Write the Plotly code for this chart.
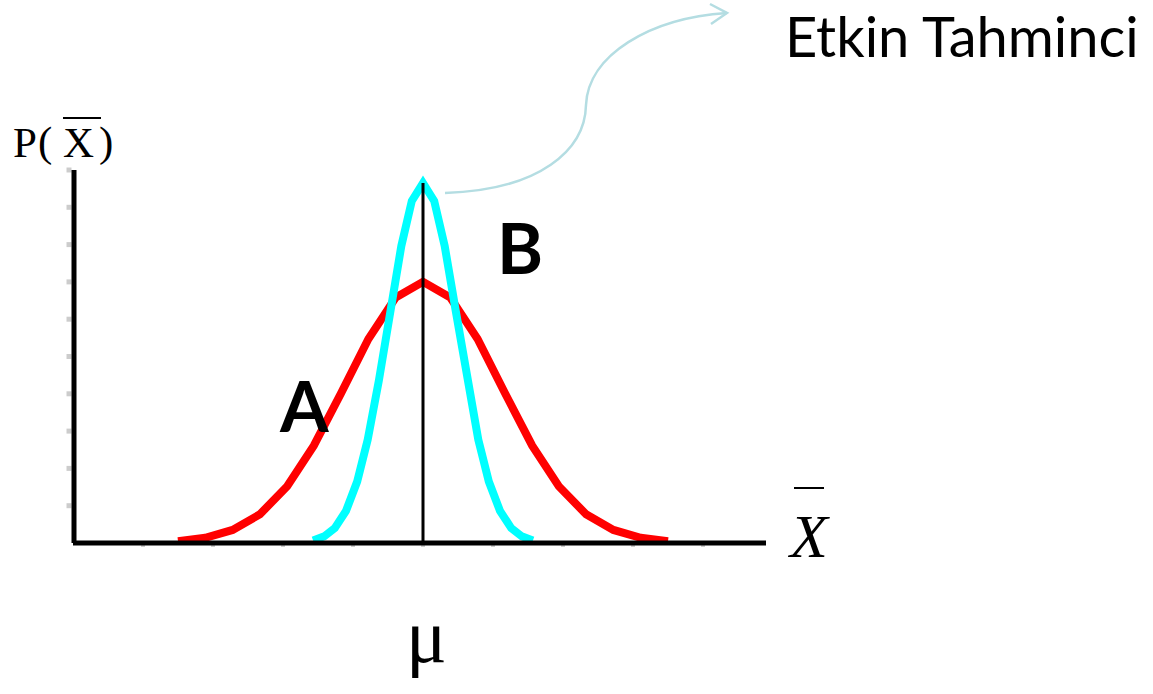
import plotly.graph_objects as go

# ---- data (x in axis units, mu = 5) ----
red_x = [1.50, 1.89, 2.28, 2.67, 3.06, 3.44, 3.83, 4.22, 4.61, 5.00,
         5.39, 5.78, 6.17, 6.56, 6.94, 7.33, 7.72, 8.11, 8.50]
red_y = [0.05, 0.14, 0.35, 0.77, 1.52, 2.61, 4.02, 5.47, 6.58, 7.00,
         6.58, 5.47, 4.02, 2.61, 1.52, 0.77, 0.35, 0.14, 0.05]

cyan_x = [3.43, 3.59, 3.74, 3.90, 4.06, 4.21, 4.37, 4.53, 4.69, 4.84, 5.00,
          5.16, 5.31, 5.47, 5.63, 5.79, 5.94, 6.10, 6.26, 6.41, 6.57]
cyan_y = [0.07, 0.18, 0.40, 0.86, 1.65, 2.77, 4.36, 6.20, 7.96, 9.17, 9.65,
          9.17, 7.96, 6.20, 4.36, 2.77, 1.65, 0.86, 0.40, 0.18, 0.07]

mu = 5.0
mu_height = 9.65
x_axis_end = 9.9
y_axis_end = 10.0
y_ticks = [1, 2, 3, 4, 5, 6, 7, 8, 9, 10]
x_ticks = [1, 2, 3, 4, 5, 6, 7, 8, 9]

W, H = 1153, 694
# pixel scale of the drawing
PX0, PY0, SX, SY = 73.0, 543.0, 70.0, 37.3
x_range = [-PX0 / SX, (W - PX0) / SX]
y_range = [-(H - PY0) / SY, PY0 / SY]


def dx(px):
    return (px - PX0) / SX


def dy(py):
    return (PY0 - py) / SY


def px(x):
    return x / W


def py(y):
    return 1 - y / H


fig = go.Figure()

fig.add_trace(go.Scatter(x=red_x, y=red_y, mode="lines",
                         line=dict(color="#ff0000", width=8), hoverinfo="skip"))
fig.add_trace(go.Scatter(x=cyan_x, y=cyan_y, mode="lines",
                         line=dict(color="#00ffff", width=8), hoverinfo="skip"))
# gray tick squares
fig.add_trace(go.Scatter(x=[dx(69)] * len(y_ticks), y=y_ticks, mode="markers",
                         marker=dict(symbol="square", size=5, color="#cccccc"),
                         hoverinfo="skip"))
fig.add_trace(go.Scatter(x=x_ticks, y=[dy(545)] * len(x_ticks), mode="markers",
                         marker=dict(symbol="square", size=4, color="#cccccc"),
                         hoverinfo="skip"))

shapes = [
    dict(type="line", x0=mu, x1=mu, y0=0, y1=mu_height, xref="x", yref="y",
         line=dict(color="black", width=3), layer="above"),
    dict(type="line", x0=0, x1=x_axis_end, y0=0, y1=0, xref="x", yref="y",
         line=dict(color="black", width=5), layer="above"),
    dict(type="line", x0=dx(74), x1=dx(74), y0=0, y1=y_axis_end, xref="x", yref="y",
         line=dict(color="black", width=5), layer="above"),
]


def P(a, b):
    return f"{px(a):.5f},{py(b):.5f}"


arrow_path = (f"M {P(445,193)} C {P(540,190)} {P(585,150)} {P(586,105)} "
              f"C {P(588,55)} {P(650,18)} {P(727,13)}")
shapes.append(dict(type="path", path=arrow_path, xref="paper", yref="paper",
                   line=dict(color="#b4dde2", width=2.5)))
shapes.append(dict(type="path", path=f"M {P(710,4)} L {P(727,13)} L {P(711,24)}",
                   xref="paper", yref="paper", line=dict(color="#b4dde2", width=2.5)))
# overlines
shapes.append(dict(type="line", x0=px(63), x1=px(101), y0=py(118), y1=py(118),
                   xref="paper", yref="paper", line=dict(color="black", width=2)))
shapes.append(dict(type="line", x0=px(794), x1=px(824), y0=py(488), y1=py(488),
                   xref="paper", yref="paper", line=dict(color="black", width=2)))

ann = []


def text(t, x, y, size, family, color="black", xanchor="center", yanchor="middle",
         italic=False, bold=False):
    if bold:
        t = f"<b>{t}</b>"
    if italic:
        t = f"<i>{t}</i>"
    ann.append(dict(text=t, x=px(x), y=py(y), xref="paper", yref="paper",
                    xanchor=xanchor, yanchor=yanchor, showarrow=False,
                    font=dict(size=size, family=family, color=color)))


text("Etkin Tahminci", 962, 0, 56, "Lato", yanchor="top")
text("A", 304, 405, 70, "Lato", bold=True)
text("B", 520, 247, 70, "Lato", bold=True)
text("P", 25, 142, 43, "Liberation Serif")
text("(", 45, 142, 43, "Liberation Serif")
text("X", 78, 142, 43, "Liberation Serif")
text(")", 106, 142, 43, "Liberation Serif")
text("X", 808, 536, 62, "Liberation Serif", italic=True)
text("μ", 426, 636, 76, "Liberation Serif")

fig.update_layout(
    width=W, height=H, margin=dict(l=0, r=0, t=0, b=0),
    paper_bgcolor="white", plot_bgcolor="white", showlegend=False,
    xaxis=dict(range=x_range, visible=False, fixedrange=True),
    yaxis=dict(range=y_range, visible=False, fixedrange=True),
    shapes=shapes, annotations=ann,
)

fig.write_html("out.html", config={"displayModeBar": False},
               post_script="document.body.style.margin='0';")
